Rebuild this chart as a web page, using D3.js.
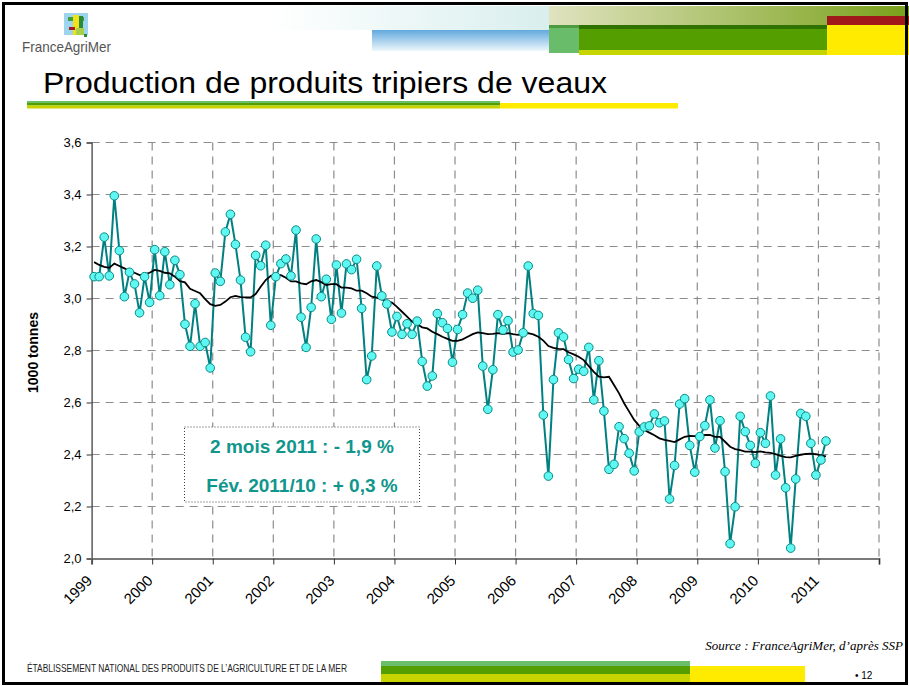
<!DOCTYPE html>
<html>
<head>
<meta charset="utf-8">
<script src="https://cdn.jsdelivr.net/npm/d3@7"></script>
<style>
  html, body { margin: 0; padding: 0; background: #fff; }
  svg { display: block; }
</style>
</head>
<body>
<div id="chart"></div>
<script>
// ---- Data ----
const yearLabels = ["1999","2000","2001","2002","2003","2004","2005","2006","2007","2008","2009","2010","2011"];
const yTickValues = [2.0, 2.2, 2.4, 2.6, 2.8, 3.0, 3.2, 3.4, 3.6];

// Monthly production, Jan 1999 -> Feb 2011 (1000 tonnes)
const production = [
  3.084, 3.084, 3.236, 3.087, 3.395, 3.184, 3.007, 3.101, 3.056, 2.945, 3.084, 2.985,
  3.188, 3.011, 3.180, 3.053, 3.147, 3.092, 2.901, 2.816, 2.980, 2.816, 2.831, 2.733,
  3.098, 3.066, 3.256, 3.324, 3.208, 3.071, 2.851, 2.795, 3.166, 3.126, 3.205, 2.897,
  3.084, 3.134, 3.152, 3.087, 3.263, 2.928, 2.812, 2.966, 3.229, 3.007, 3.074, 2.920,
  3.129, 2.944, 3.133, 3.111, 3.151, 2.962, 2.688, 2.779, 3.125, 3.010, 2.979, 2.871,
  2.931, 2.862, 2.903, 2.862, 2.913, 2.758, 2.663, 2.702, 2.942, 2.907, 2.885, 2.755,
  2.881, 2.938, 3.021, 3.001, 3.032, 2.740, 2.574, 2.726, 2.938, 2.879, 2.915, 2.794,
  2.802, 2.868, 3.125, 2.942, 2.935, 2.552, 2.317, 2.688, 2.868, 2.852, 2.765, 2.692,
  2.728, 2.720, 2.812, 2.610, 2.761, 2.567, 2.343, 2.362, 2.507, 2.461, 2.405, 2.337,
  2.487, 2.506, 2.510, 2.556, 2.522, 2.529, 2.229, 2.358, 2.594, 2.615, 2.435, 2.332,
  2.469, 2.511, 2.610, 2.425, 2.530, 2.334, 2.057, 2.199, 2.547, 2.488, 2.435, 2.366,
  2.484, 2.443, 2.625, 2.321, 2.460, 2.272, 2.040, 2.306, 2.558, 2.547, 2.443, 2.321,
  2.379, 2.452
];

// 12-month moving average line
const moyenneMobile = [
  3.140, 3.129, 3.122, 3.118, 3.134, 3.125, 3.116, 3.106, 3.099, 3.090, 3.094, 3.099,
  3.110, 3.106, 3.099, 3.097, 3.084, 3.067, 3.062, 3.037, 3.029, 3.020, 2.998, 2.978,
  2.972, 2.975, 2.988, 3.005, 3.010, 3.005, 3.004, 3.004, 3.017, 3.045, 3.071, 3.087,
  3.092, 3.090, 3.080, 3.066, 3.066, 3.058, 3.055, 3.066, 3.071, 3.063, 3.052, 3.055,
  3.055, 3.042, 3.042, 3.039, 3.030, 3.030, 3.020, 3.007, 3.003, 2.997, 2.990, 2.984,
  2.968, 2.949, 2.930, 2.911, 2.901, 2.889, 2.885, 2.872, 2.863, 2.853, 2.845, 2.837,
  2.837, 2.843, 2.853, 2.863, 2.870, 2.867, 2.863, 2.864, 2.867, 2.863, 2.867, 2.863,
  2.860, 2.863, 2.867, 2.862, 2.853, 2.838, 2.817, 2.810, 2.806, 2.805, 2.793, 2.785,
  2.776, 2.763, 2.740, 2.718, 2.699, 2.697, 2.699, 2.667, 2.635, 2.597, 2.565, 2.533,
  2.510, 2.494, 2.484, 2.474, 2.462, 2.456, 2.452, 2.448, 2.458, 2.468, 2.472, 2.471,
  2.471, 2.475, 2.475, 2.468, 2.468, 2.449, 2.430, 2.421, 2.417, 2.411, 2.411, 2.409,
  2.412, 2.408, 2.406, 2.401, 2.395, 2.390, 2.389, 2.395, 2.399, 2.402, 2.403, 2.401,
  2.397, 2.393
];

const legendLines = ["2 mois 2011 : - 1,9 %", "Fév. 2011/10 : + 0,3 %"];
const titleText = "Production de produits tripiers de veaux";
const yAxisTitle = "1000 tonnes";
const sourceText = "Source : FranceAgriMer, d’après SSP";
const footerText = "ÉTABLISSEMENT NATIONAL DES PRODUITS DE L’AGRICULTURE ET DE LA MER";

// ---- Drawing ----
const W = 909, H = 686;
const svg = d3.select("#chart").append("svg").attr("width", W).attr("height", H)
  .style("font-family", "'Liberation Sans', Arial, sans-serif");

const defs = svg.append("defs");
const gBlue = defs.append("linearGradient").attr("id", "gBlue").attr("x1", 0).attr("y1", 0).attr("x2", 0).attr("y2", 1);
gBlue.append("stop").attr("offset", "0%").attr("stop-color", "#62a9de");
gBlue.append("stop").attr("offset", "100%").attr("stop-color", "#eef7fc");
const gPale = defs.append("linearGradient").attr("id", "gPale").attr("x1", 0).attr("y1", 0).attr("x2", 1).attr("y2", 0);
gPale.append("stop").attr("offset", "0%").attr("stop-color", "#ffffff");
gPale.append("stop").attr("offset", "100%").attr("stop-color", "#d9eeee");
const gOlive = defs.append("linearGradient").attr("id", "gOlive").attr("x1", 0).attr("y1", 0).attr("x2", 1).attr("y2", 0);
gOlive.append("stop").attr("offset", "0%").attr("stop-color", "#e0e3bf");
gOlive.append("stop").attr("offset", "100%").attr("stop-color", "#79a11a");

// header decoration
svg.append("rect").attr("x", 270).attr("y", 6).attr("width", 279).attr("height", 24).attr("fill", "url(#gPale)");
svg.append("rect").attr("x", 372).attr("y", 30).attr("width", 177).attr("height", 21).attr("fill", "url(#gBlue)");
svg.append("rect").attr("x", 549).attr("y", 6).attr("width", 360).attr("height", 19).attr("fill", "url(#gOlive)");
svg.append("rect").attr("x", 827).attr("y", 16).attr("width", 82).attr("height", 9).attr("fill", "#a0181a");
svg.append("rect").attr("x", 549).attr("y", 25).attr("width", 30).attr("height", 28).attr("fill", "#69bd6a");
svg.append("rect").attr("x", 549).attr("y", 25).attr("width", 30).attr("height", 3).attr("fill", "#4e9a40");
svg.append("rect").attr("x", 579).attr("y", 50).attr("width", 248).attr("height", 5).attr("fill", "#c6d400");
svg.append("rect").attr("x", 579).attr("y", 25).attr("width", 248).attr("height", 25).attr("fill", "#559e00");
svg.append("rect").attr("x", 579).attr("y", 25).attr("width", 248).attr("height", 4).attr("fill", "#2f7200");
svg.append("rect").attr("x", 827).attr("y", 25).attr("width", 82).attr("height", 30).attr("fill", "#ffeb00");

// logo
const logo = svg.append("g").attr("transform", "translate(64,13)");
logo.append("rect").attr("x", 0).attr("y", 0).attr("width", 24).attr("height", 22).attr("fill", "#9fd4ee");
logo.append("rect").attr("x", 4).attr("y", 4).attr("width", 16).attr("height", 4).attr("fill", "#3aa040");
logo.append("rect").attr("x", 9).attr("y", 2).attr("width", 6).attr("height", 20).attr("fill", "#f2e21a");
logo.append("rect").attr("x", 15).attr("y", 3).attr("width", 4).attr("height", 13).attr("fill", "#2a8a3a");
logo.append("rect").attr("x", 5).attr("y", 14).attr("width", 6).attr("height", 3).attr("fill", "#a02020");
logo.append("rect").attr("x", 12).attr("y", 15).attr("width", 8).attr("height", 7).attr("fill", "#a8cf48");
logo.append("rect").attr("x", 20).attr("y", 21).attr("width", 3).attr("height", 3).attr("fill", "#2a8a3a");
svg.append("text").attr("x", 22).attr("y", 52).attr("font-size", 15).attr("fill", "#555")
  .attr("textLength", 89).attr("lengthAdjust", "spacingAndGlyphs").text("FranceAgriMer");

// title
svg.append("text").attr("x", 43).attr("y", 93).attr("font-size", 30).attr("fill", "#000")
  .attr("textLength", 564).attr("lengthAdjust", "spacingAndGlyphs").text(titleText);
svg.append("rect").attr("x", 27).attr("y", 101).attr("width", 473).attr("height", 2.5).attr("fill", "#6bbf6b");
svg.append("rect").attr("x", 27).attr("y", 103).attr("width", 473).attr("height", 2.5).attr("fill", "#559e00");
svg.append("rect").attr("x", 27).attr("y", 105.5).attr("width", 473).attr("height", 3).attr("fill", "#c8d400");
svg.append("rect").attr("x", 500).attr("y", 103).attr("width", 178).attr("height", 5.5).attr("fill", "#ffeb00");

// ---- chart ----
const x0 = 91.6, x1 = 879, yTop = 142.5, yBot = 558.5;
const nSlots = 156;
const x = d3.scaleLinear().domain([0, nSlots]).range([x0, x1]);
const y = d3.scaleLinear().domain([2.0, 3.6]).range([yBot, yTop]);
const yearTicks = d3.range(0, nSlots + 1, 12);

const grid = svg.append("g");
grid.selectAll("line.h").data(yTickValues.filter(v => v > 2.0)).join("line")
  .attr("x1", x0).attr("x2", x1).attr("y1", d => y(d)).attr("y2", d => y(d))
  .attr("stroke", "#8c8c8c").attr("stroke-width", 1.2).attr("stroke-dasharray", "8,6");
grid.selectAll("line.v").data(yearTicks.filter(t => t > 0)).join("line")
  .attr("x1", d => x(d)).attr("x2", d => x(d)).attr("y1", yTop).attr("y2", yBot)
  .attr("stroke", "#8c8c8c").attr("stroke-width", 1.2).attr("stroke-dasharray", "8,6");

// y axis
const yAxis = d3.axisLeft(y).tickValues(yTickValues).tickSize(5).tickPadding(5)
  .tickFormat(d => d3.format(".1f")(d).replace(".", ","));
const gy = svg.append("g").attr("transform", `translate(${x0},0)`).call(yAxis);
gy.select(".domain").attr("stroke", "#333").attr("stroke-width", 1.2);
gy.selectAll(".tick line").attr("stroke", "#333");
gy.selectAll(".tick text").attr("font-size", 13).attr("fill", "#000")
  .attr("font-family", "'Liberation Sans', Arial, sans-serif");

svg.append("text").attr("transform", `translate(38,${(yTop + yBot) / 2 + 2}) rotate(-90)`)
  .attr("text-anchor", "middle").attr("font-size", 14).attr("font-weight", "bold").text(yAxisTitle);

// x axis
const xAxis = d3.axisBottom(x).tickValues(yearTicks).tickSize(6)
  .tickFormat((d, i) => yearLabels[i] || "");
const gx = svg.append("g").attr("transform", `translate(0,${yBot})`).call(xAxis);
gx.select(".domain").attr("stroke", "#7a7a7a").attr("stroke-width", 2);
gx.selectAll(".tick line").attr("stroke", "#333");
gx.selectAll(".tick text").attr("font-size", 15).attr("fill", "#000")
  .attr("font-family", "'Liberation Sans', Arial, sans-serif")
  .attr("text-anchor", "end").attr("dy", 0).attr("y", 0)
  .attr("transform", "translate(1,23) rotate(-45)");

// series
const lineGen = d3.line().x((d, i) => x(i + 0.5)).y(d => y(d));
svg.append("path").datum(production).attr("d", lineGen)
  .attr("fill", "none").attr("stroke", "#008080").attr("stroke-width", 2);
svg.append("path").datum(moyenneMobile).attr("d", lineGen)
  .attr("fill", "none").attr("stroke", "#000").attr("stroke-width", 1.8);
svg.append("g").selectAll("circle").data(production).join("circle")
  .attr("cx", (d, i) => x(i + 0.5)).attr("cy", d => y(d)).attr("r", 4.3)
  .attr("fill", "#5ff7f2").attr("stroke", "#0a8a86").attr("stroke-width", 1);

// legend box
svg.append("rect").attr("x", 184.5).attr("y", 427).attr("width", 235).attr("height", 75)
  .attr("fill", "#fff").attr("stroke", "#444").attr("stroke-width", 1).attr("stroke-dasharray", "1,2");
svg.selectAll("text.leg").data(legendLines).join("text")
  .attr("x", 302).attr("y", (d, i) => 453 + i * 38.5).attr("text-anchor", "middle")
  .attr("font-size", 19).attr("font-weight", "bold").attr("fill", "#10968c").text(d => d);

// source
svg.append("text").attr("x", 903).attr("y", 650).attr("text-anchor", "end")
  .attr("font-family", "'Liberation Serif', 'Times New Roman', serif").attr("font-style", "italic")
  .attr("font-size", 13).text(sourceText);

// footer
svg.append("text").attr("x", 27).attr("y", 672).attr("font-size", 10).attr("fill", "#222")
  .attr("textLength", 320).attr("lengthAdjust", "spacingAndGlyphs").text(footerText);
svg.append("rect").attr("x", 381).attr("y", 661).attr("width", 309).attr("height", 5).attr("fill", "#6bbf6b");
svg.append("rect").attr("x", 381).attr("y", 666).attr("width", 309).attr("height", 8).attr("fill", "#559e00");
svg.append("rect").attr("x", 381).attr("y", 674).attr("width", 309).attr("height", 10).attr("fill", "#c8d400");
svg.append("rect").attr("x", 690).attr("y", 666).attr("width", 115).attr("height", 18).attr("fill", "#ffeb00");
svg.append("text").attr("x", 855).attr("y", 679).attr("font-size", 10).text("• 12");

// slide border
svg.append("rect").attr("x", 3.5).attr("y", 3.5).attr("width", 903).attr("height", 680)
  .attr("fill", "none").attr("stroke", "#000").attr("stroke-width", 3);
</script>
</body>
</html>
